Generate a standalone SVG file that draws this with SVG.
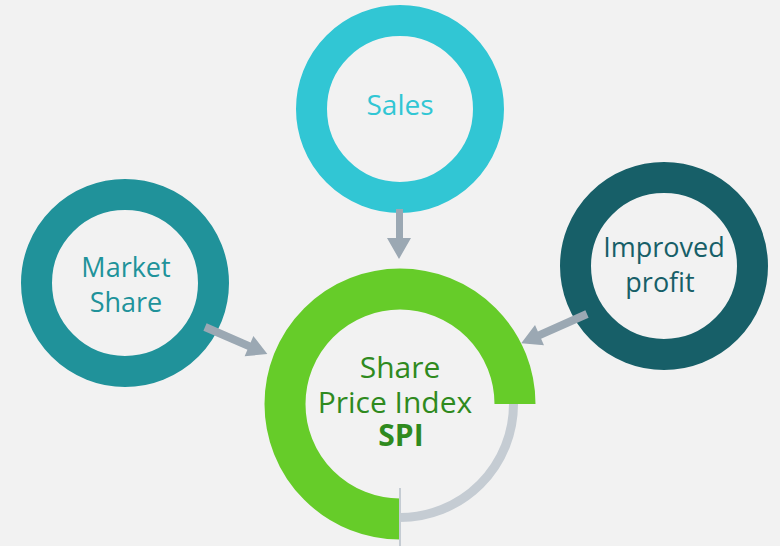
<svg xmlns="http://www.w3.org/2000/svg" width="780" height="546" viewBox="0 0 780 546">
  <style>
    .lbl { font-family: "Open Sans", "Liberation Sans", sans-serif; text-anchor: middle; }
    .ring { fill: none; }
    .arrow { fill: #9BA8B3; }
  </style>
  <rect x="0" y="0" width="780" height="546" fill="#F2F2F2"/>

  <g id="node-sales">
    <circle class="ring" cx="400" cy="109" r="88.5" stroke="#31C6D4" stroke-width="31"/>
    <text class="lbl" x="400" y="115" font-size="28" fill="#31C6D4">Sales</text>
  </g>

  <g id="node-market-share">
    <circle class="ring" cx="125" cy="283" r="88.5" stroke="#20929A" stroke-width="31"/>
    <text class="lbl" x="126" y="277" font-size="27" fill="#20929A">Market</text>
    <text class="lbl" x="126" y="312" font-size="27" fill="#20929A">Share</text>
  </g>

  <g id="node-improved-profit">
    <circle class="ring" cx="664" cy="266" r="88.5" stroke="#175F68" stroke-width="31"/>
    <text class="lbl" x="664" y="257" font-size="27" fill="#175F68">Improved</text>
    <text class="lbl" x="660" y="292" font-size="27" fill="#175F68">profit</text>
  </g>

  <g id="node-spi">
    <path class="ring" d="M513.5,404 A113.5,113.5 0 0 1 400,517.5" stroke="#C5CCD3" stroke-width="9"/>
    <path class="ring" d="M400,519 A115,115 0 1 1 515,404" stroke="#66CC29" stroke-width="41"/>
    <line x1="400" y1="488" x2="400" y2="546" stroke="#C5CCD3" stroke-width="2"/>
    <text class="lbl" x="400" y="378" font-size="30" fill="#2F8A1E">Share</text>
    <text class="lbl" x="395" y="413" font-size="30" fill="#2F8A1E">Price Index</text>
    <text class="lbl" x="401" y="446" font-size="30" font-weight="bold" fill="#2F8A1E">SPI</text>
  </g>

  <g id="connectors">
    <polygon class="arrow" points="396,209 403,209 403,238 411,238 399,259 387,238 396,238"/>
    <polygon class="arrow" transform="translate(205,327) rotate(23.5)" points="0,-4 48,-4 48,-11 68,0 48,11 48,4 0,4"/>
    <polygon class="arrow" transform="translate(587,314) rotate(156)" points="0,-4 52,-4 52,-11 72,0 52,11 52,4 0,4"/>
  </g>
</svg>
